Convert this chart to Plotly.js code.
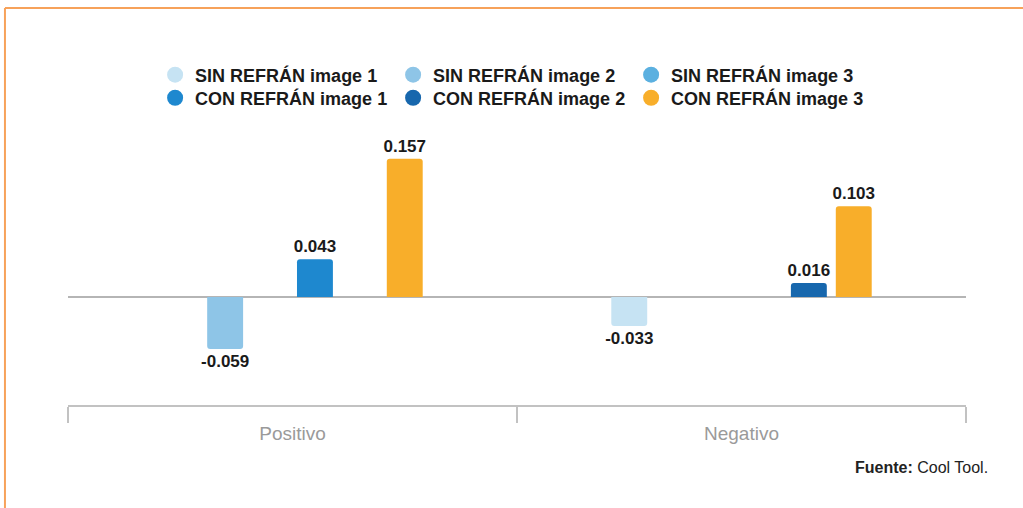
<!DOCTYPE html>
<html>
<head>
<meta charset="utf-8">
<script src="https://cdn.plot.ly/plotly-3.0.1.min.js"></script>
<style>html,body{margin:0;padding:0;background:#fff;}#chart{width:1023px;height:508px;}</style>
</head>
<body>
<div id="chart"></div>
<script>
const categories = ["Positivo", "Negativo"];
const seriesNames = ["SIN REFRÁN image 1", "SIN REFRÁN image 2", "SIN REFRÁN image 3",
                     "CON REFRÁN image 1", "CON REFRÁN image 2", "CON REFRÁN image 3"];
const sin1 = [null, -0.033];
const sin2 = [-0.059, null];
const sin3 = [null, null];
const con1 = [0.043, null];
const con2 = [null, 0.016];
const con3 = [0.157, 0.103];
const seriesValues = [sin1, sin2, sin3, con1, con2, con3];
const colors = ["#c6e3f3", "#8ec5e7", "#5bb0e0", "#1e88cf", "#1767ad", "#f8ae2a"];

const traces = [];
seriesValues.forEach((vals, i) => {
  traces.push({
    type: "bar", x: categories, y: vals, name: seriesNames[i],
    marker: {color: colors[i], cornerradius: 3},
    text: vals.map(v => v === null ? "" : v.toFixed(3)),
    textposition: "outside", cliponaxis: false, constraintext: "none",
    textfont: {family: "Liberation Sans, Arial, sans-serif", size: 17, color: "#1a1a1a", weight: "bold"},
    showlegend: false, hoverinfo: "skip"
  });
});
seriesValues.forEach((vals, i) => {
  traces.push({
    type: "scatter", mode: "markers", x: [null], y: [null], name: seriesNames[i],
    legend: i < 3 ? "legend" : "legend2",
    marker: {color: colors[i], size: 16, symbol: "circle"}, showlegend: true
  });
});

const legendFont = {family: "Liberation Sans, Arial, sans-serif", size: 18, color: "#1a1a1a", weight: "bold"};
const layout = {
  width: 1023, height: 508,
  margin: {l: 68, r: 57, t: 120, b: 103},
  paper_bgcolor: "#ffffff", plot_bgcolor: "#ffffff",
  barmode: "group", bargap: 0.4, bargroupgap: 0.2,
  font: {family: "Liberation Sans, Arial, sans-serif"},
  legend: {
    orientation: "h", x: 0.097, xanchor: "left", y: 1.158, yanchor: "middle",
    entrywidth: 193, entrywidthmode: "pixels", traceorder: "normal",
    font: legendFont, bgcolor: "rgba(0,0,0,0)"
  },
  legend2: {
    orientation: "h", x: 0.097, xanchor: "left", y: 1.077, yanchor: "middle",
    entrywidth: 193, entrywidthmode: "pixels", traceorder: "normal",
    font: legendFont, bgcolor: "rgba(0,0,0,0)"
  },
  xaxis: {
    type: "category", showline: true, linecolor: "#c2c2c2", linewidth: 2,
    ticks: "outside", tickson: "boundaries", ticklen: 16, tickwidth: 2, tickcolor: "#c2c2c2",
    ticklabelstandoff: 10,
    tickfont: {family: "Liberation Sans, Arial, sans-serif", size: 19, color: "#9a9a9a"},
    showgrid: false, zeroline: false, fixedrange: true
  },
  yaxis: {
    range: [-0.1227, 0.2011], showticklabels: false, ticks: "", showgrid: false,
    zeroline: true, zerolinecolor: "#b5b5b5", zerolinewidth: 2, showline: false, fixedrange: true
  },
  shapes: [
    {type: "line", xref: "paper", yref: "paper", x0: -0.0702, x1: 1.07, y0: 1.393, y1: 1.393,
     line: {color: "#f7a25a", width: 2}},
    {type: "line", xref: "paper", yref: "paper", x0: -0.0702, x1: -0.0702, y0: 1.393, y1: -0.37,
     line: {color: "#f7a25a", width: 2}}
  ],
  annotations: [
    {xref: "paper", yref: "paper", x: 1.027, y: -0.221, xanchor: "right", yanchor: "middle",
     text: "<b>Fuente:</b> Cool Tool.", showarrow: false,
     font: {family: "Liberation Sans, Arial, sans-serif", size: 16, color: "#222"}}
  ]
};

Plotly.newPlot("chart", traces, layout, {displayModeBar: false, staticPlot: true});
</script>
</body>
</html>
